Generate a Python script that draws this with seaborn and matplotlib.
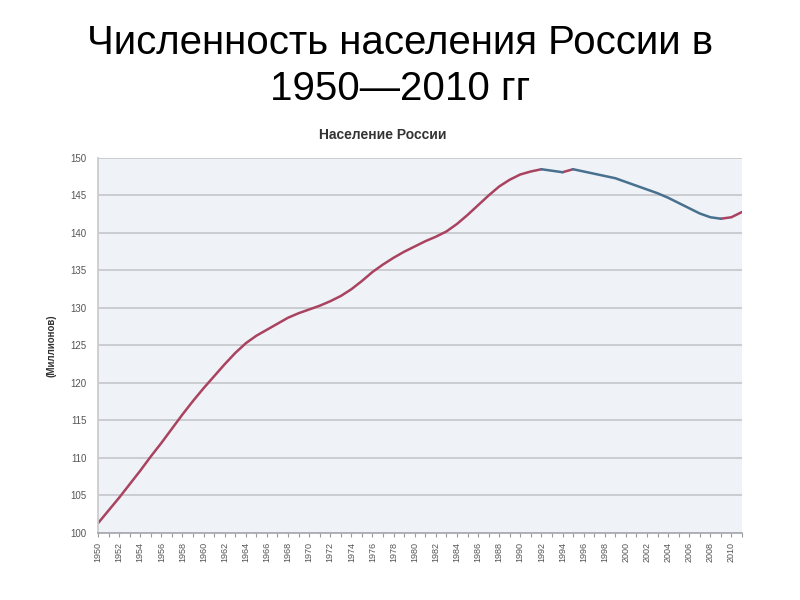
import numpy as np
import pandas as pd
import seaborn as sns
import matplotlib as mat

mat.use("Agg")

import matplotlib.pyplot as plt
from matplotlib.ticker import MultipleLocator


TITULO = "Численность населения России в\n1950—2010 гг"
TITULO_GRAFICO = "Население России"
ROTULO_Y = "(Миллионов)"

ANOS = list(range(1950, 2012))
POPULACAO = [
    101.3, 103.0, 104.7, 106.5, 108.3, 110.2, 112.0, 113.9, 115.8, 117.6,
    119.3, 120.9, 122.5, 124.0, 125.3, 126.3, 127.1, 127.9, 128.7, 129.3,
    129.8, 130.3, 130.9, 131.6, 132.5, 133.6, 134.8, 135.8, 136.7, 137.5,
    138.2, 138.9, 139.5, 140.2, 141.2, 142.4, 143.7, 145.0, 146.2, 147.1,
    147.8, 148.2, 148.5, 148.3, 148.1, 148.5, 148.2, 147.9, 147.6, 147.3,
    146.8, 146.3, 145.8, 145.3, 144.7, 144.0, 143.3, 142.6, 142.1, 141.9,
    142.1, 142.8,
]

COR_ALTA = "#a9435f"
COR_QUEDA = "#48708f"


def montar_trechos() -> pd.DataFrame:
    # divide a serie em trechos de subida e descida, repetindo o ponto de ligacao
    linhas = []
    trecho = 0
    direcao_atual = None
    for i in range(1, len(ANOS)):
        direcao = "alta" if POPULACAO[i] >= POPULACAO[i - 1] else "queda"
        if direcao != direcao_atual:
            trecho += 1
            direcao_atual = direcao
            linhas.append((ANOS[i - 1], POPULACAO[i - 1], direcao, trecho))
        linhas.append((ANOS[i], POPULACAO[i], direcao, trecho))
    return pd.DataFrame(linhas, columns=["ano", "pop", "direcao", "trecho"])


def main() -> None:
    sns.set_theme(style="white")
    plt.rcParams["font.family"] = ["Liberation Sans", "DejaVu Sans"]

    df = montar_trechos()

    fig = plt.figure(figsize=(8, 6), dpi=100)
    ax = fig.add_axes([0.1225, 0.1117, 0.805, 0.625])
    ax.set_facecolor("#eff2f7")

    sns.lineplot(
        data=df,
        x="ano",
        y="pop",
        hue="direcao",
        units="trecho",
        estimator=None,
        palette={"alta": COR_ALTA, "queda": COR_QUEDA},
        linewidth=1.8,
        legend=False,
        ax=ax,
    )

    ax.set_xlim(1950, 2011)
    ax.set_ylim(100, 150)
    ax.yaxis.set_major_locator(MultipleLocator(5))
    ax.set_xticks(range(1950, 2011, 2))
    ax.xaxis.set_minor_locator(MultipleLocator(1))
    ax.grid(axis="y", color="#c9cacc", linewidth=1.3)
    ax.set_axisbelow(True)

    ax.tick_params(axis="x", which="both", rotation=90, labelsize=6.5,
                   colors="#9a9a9a", labelcolor="#555555", direction="out",
                   length=3, width=0.8, bottom=True)
    ax.tick_params(axis="y", labelsize=7, labelcolor="#555555", length=0, pad=8)

    for lado in ["top", "right"]:
        ax.spines[lado].set_visible(False)
    ax.spines["left"].set_color("#c9cacc")
    ax.spines["bottom"].set_color("#a8abb0")
    ax.spines["bottom"].set_linewidth(1.3)

    ax.set_xlabel("")
    ax.set_ylabel(ROTULO_Y, fontsize=7, fontweight="bold", color="#333333", labelpad=10)

    fig.text(0.479, 0.775, TITULO_GRAFICO, ha="center", va="center",
             fontsize=10, fontweight="bold", color="#333333")
    fig.text(0.5, 0.89, TITULO, ha="center", va="center",
             fontsize=29, color="#000000", linespacing=1.27)

    fig.savefig("out.png", dpi=100)
    plt.close(fig)


if __name__ == "__main__":
    main()
